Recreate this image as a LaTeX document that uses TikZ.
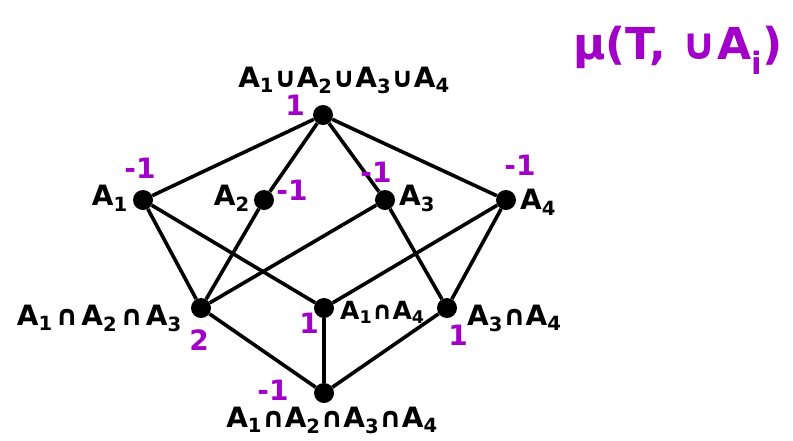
\documentclass[tikz,border=0pt]{standalone}
\usepackage{fontspec}
\setmainfont{DejaVu Sans}
\definecolor{mpurple}{RGB}{160,0,200}
\begin{document}
\begin{tikzpicture}[x=1pt,y=-1pt,
  dot/.style={circle,fill=black,inner sep=0pt,minimum size=20pt},
  edge/.style={line width=3.6pt,black},
  lab/.style={font=\fontsize{28}{30}\selectfont\bfseries,inner sep=0pt},
  val/.style={font=\fontsize{28}{30}\selectfont\bfseries,text=mpurple,inner sep=0pt}]
\useasboundingbox (0,0) rectangle (793,440);
\node[dot] (T) at (323,115) {};
\node[dot] (a1) at (143,200) {};
\node[dot] (a2) at (264,200) {};
\node[dot] (a3) at (385,200) {};
\node[dot] (a4) at (506,200) {};
\node[dot] (b123) at (201,308) {};
\node[dot] (b14) at (324,308) {};
\node[dot] (b34) at (447,308) {};
\node[dot] (B) at (324,393) {};
\foreach \u/\v in {T/a1,T/a2,T/a3,T/a4,a1/b123,a1/b14,a2/b123,a3/b123,a3/b34,a4/b14,a4/b34,b123/B,b14/B,b34/B}
  \draw[edge] (\u) -- (\v);
% labels
\node[lab] (lT) at (344,80) {A\textsubscript{1}∪A\textsubscript{2}∪A\textsubscript{3}∪A\textsubscript{4}};
\node[lab,anchor=east] (l1) at (128,198) {A\textsubscript{1}};
\node[lab,anchor=east] (l2) at (250,198) {A\textsubscript{2}};
\node[lab,anchor=west] (l3) at (399,198) {A\textsubscript{3}};
\node[lab,anchor=west] (l4) at (520,202) {A\textsubscript{4}};
\node[lab,anchor=east] (l123) at (182,318) {A\textsubscript{1}\kern3pt∩\kern3pt A\textsubscript{2}\kern3pt∩\kern3pt A\textsubscript{3}};
\node[lab,anchor=west,font=\fontsize{25}{27}\selectfont\bfseries] (l14) at (340,312) {A\textsubscript{1}∩A\textsubscript{4}};
\node[lab,anchor=west] (l34) at (467,318) {A\textsubscript{3}∩A\textsubscript{4}};
\node[lab] (lB) at (332,420) {A\textsubscript{1}∩A\textsubscript{2}∩A\textsubscript{3}∩A\textsubscript{4}};
% values
\node[val] (vT) at (295,105) {1};
\node[val] (v1) at (140,168) {-1};
\node[val] (v2) at (292,190) {-1};
\node[val] (v3) at (376,172) {-1};
\node[val] (v4) at (520,165) {-1};
\node[val] (v123) at (199,340) {2};
\node[val] (v14) at (309,323) {1};
\node[val] (v34) at (458,335) {1};
\node[val] (vB) at (273,390) {-1};
\node[val,font=\fontsize{44}{48}\selectfont\bfseries] (mu) at (678,50) {μ(T, ∪A\textsubscript{i})};
\end{tikzpicture}
\end{document}
